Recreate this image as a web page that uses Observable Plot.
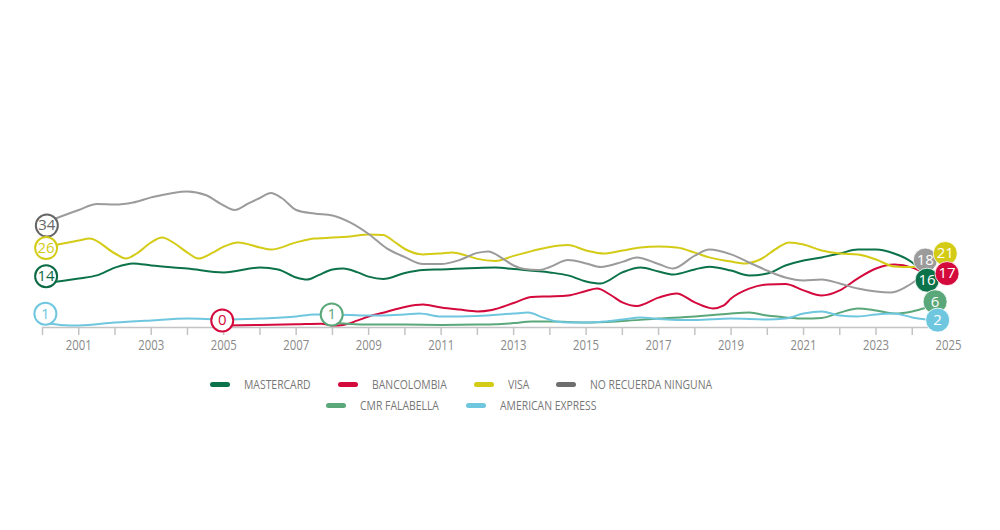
<!DOCTYPE html>
<html>
<head>
<meta charset="utf-8">
<script src="https://cdn.jsdelivr.net/npm/d3@7"></script>
<script src="https://cdn.jsdelivr.net/npm/@observablehq/plot@0.6"></script>
<style>
  html, body { margin: 0; padding: 0; background: #fff; }
  body { width: 1000px; height: 530px; position: relative; overflow: hidden;
         font-family: "Open Sans", "Liberation Sans", sans-serif; }
  #chart { position: absolute; left: 0; top: 0; }
  .lrow { position: absolute; left: 0; width: 922px; display: flex; justify-content: center;
          align-items: center; gap: 27px; font-size: 13px; color: #777; height: 18px; }
  .item { display: flex; align-items: center; gap: 14px; white-space: nowrap; }
  .sw { width: 20px; height: 5px; border-radius: 3px; display: inline-block; }
  .lt { display: inline-block; transform-origin: left center; }
</style>
</head>
<body>
<div id="chart"></div>
<div class="lrow" id="row1" style="top:375px"></div>
<div class="lrow" id="row2" style="top:396px"></div>
<script>
// ---- series names & colours ----
const seriesNames = ["MASTERCARD", "BANCOLOMBIA", "VISA", "NO RECUERDA NINGUNA", "CMR FALABELLA", "AMERICAN EXPRESS"];
const seriesColors = ["#0b7249", "#d4093c", "#d3cb16", "#9b9b9b", "#5aa77a", "#6fc7df"];
const legendColors = ["#0b7249", "#d4093c", "#d3cb16", "#6e6e6e", "#5aa77a", "#6fc7df"];
const outlineColors = ["#0b6a44", "#d4093c", "#d3cb16", "#666666", "#5aa77a", "#6fc7df"];

// ---- values [year, %] ----
const mastercard = [[2000,14],[2001,15.7],[2001.5,16.7],[2002,19.3],[2002.5,20.7],[2003,20],[2004,19],[2005,17.7],[2006,19.3],[2006.5,18.7],[2007,16],[2007.3,15.3],[2007.6,16.7],[2008,18.7],[2008.3,19],[2008.7,17.7],[2009,16.3],[2009.4,15.5],[2010,17.5],[2010.5,18.5],[2011,18.7],[2012,19.2],[2012.5,19.3],[2013,18.8],[2014,17.7],[2014.5,16.7],[2015,14.7],[2015.4,14],[2016,17.7],[2016.5,19.3],[2017,18],[2017.4,17],[2018,18.7],[2018.4,19.6],[2019,18.3],[2019.5,16.7],[2020,17.3],[2020.5,20],[2021,21.7],[2021.5,22.7],[2022,24],[2022.5,25.3],[2023,25.3],[2023.5,24],[2024,21],[2024.4,16]];
const bancolombia = [[2005,0],[2006,0.2],[2007,0.4],[2007.7,0.6],[2008,0],[2008.3,0.2],[2008.7,1.7],[2009,3],[2009.5,4.6],[2010,6.2],[2010.5,7],[2011,6],[2011.5,5.3],[2012,4.7],[2012.4,5.2],[2013,7.5],[2013.5,9.5],[2014,9.7],[2014.5,10],[2015,11.5],[2015.3,12.3],[2015.7,10],[2016,7.7],[2016.4,6.5],[2017,9.3],[2017.5,10.7],[2018,7.7],[2018.5,5.7],[2018.8,6.7],[2019,9],[2019.5,12.3],[2020,13.7],[2020.5,13.8],[2021,11.7],[2021.5,10],[2022,11.7],[2022.5,15.7],[2023,19],[2023.5,20.3],[2024,19.3],[2024.4,17]];
const visa = [[2000,26],[2001,28.3],[2001.3,29],[2002,24],[2002.3,22.3],[2002.6,24],[2003,27.7],[2003.3,29.3],[2003.6,27.7],[2004,24.3],[2004.3,22.3],[2004.7,24.3],[2005,26.3],[2005.4,27.7],[2006,26],[2006.3,25.3],[2007,27.7],[2007.5,29],[2008,29.3],[2008.5,29.7],[2009,30.3],[2009.4,30.2],[2009.7,28],[2010,25.5],[2010.5,23.7],[2011,24],[2011.3,24.3],[2011.7,23.3],[2012,22.2],[2012.5,21.5],[2013,23.2],[2013.5,24.8],[2014,26.2],[2014.5,26.8],[2015,25],[2015.5,24],[2016,25],[2016.5,26],[2017,26.3],[2017.5,26],[2018,24.3],[2018.4,22.7],[2019,21.3],[2019.4,20.7],[2019.8,22],[2020.3,26],[2020.6,27.7],[2021,27],[2021.5,25],[2022,24],[2022.5,23.7],[2023,22],[2023.5,19.7],[2024,19.5],[2024.4,20.5]];
const noRecuerda = [[2000,34],[2001,38.5],[2001.5,40.5],[2002,40.3],[2002.5,41],[2003,42.7],[2004,44.7],[2004.5,43.5],[2005,40],[2005.3,38.5],[2005.7,40.8],[2006,42.5],[2006.3,44.2],[2006.6,42.5],[2007,38.5],[2007.5,37.3],[2008,36.7],[2008.5,34.3],[2009,30.5],[2009.5,25.7],[2010,22.8],[2010.5,20.5],[2011,20.5],[2011.5,21.8],[2012,24.2],[2012.3,24.7],[2012.7,22.3],[2013,20],[2013.3,18.8],[2013.7,18.5],[2014,19.5],[2014.5,21.8],[2015,20.7],[2015.4,19.5],[2016,21.2],[2016.4,22.7],[2017,20.5],[2017.4,19],[2018,23.3],[2018.4,25.3],[2019,23.7],[2019.5,21],[2020,18.3],[2020.5,16],[2021,15],[2021.5,15.3],[2022,14],[2022.5,12.3],[2023,11.3],[2023.4,11],[2023.8,12.7],[2024.1,15],[2024.4,18]];
const cmrFalabella = [[2008,1],[2008.5,0.5],[2009,0.3],[2010,0.3],[2011,0.2],[2012,0.3],[2012.5,0.4],[2013,0.8],[2013.5,1.3],[2014,1.3],[2015,1],[2016,1.5],[2017,2.3],[2018,3],[2018.5,3.5],[2019,4],[2019.5,4.3],[2020,3.3],[2020.5,2.7],[2021,2.3],[2021.5,2.5],[2022,4.3],[2022.5,5.7],[2023,5],[2023.5,4],[2024,4.7],[2024.4,6]];
const americanExpress = [[2000,1],[2000.5,0.2],[2001,0],[2002,1],[2003,1.7],[2004,2.3],[2005,2],[2006,2.3],[2007,3],[2007.5,3.7],[2008,3.7],[2009,3.3],[2010,3.7],[2010.4,4],[2011,3],[2012,3.2],[2013,4],[2013.4,4.3],[2013.8,2.7],[2014.2,1.3],[2014.5,1],[2015,1],[2015.5,1.3],[2016,2],[2016.5,2.7],[2017,2.2],[2018,1.8],[2019,2.3],[2020,2],[2020.5,2.3],[2021,4],[2021.5,4.7],[2022,3.3],[2022.5,3],[2023,3.7],[2023.5,4],[2024,2.7],[2024.4,2]];
const seriesData = [mastercard, bancolombia, visa, noRecuerda, cmrFalabella, americanExpress];

// ---- start labels (outlined) ----
const startSeries = ["NO RECUERDA NINGUNA", "VISA", "MASTERCARD", "AMERICAN EXPRESS", "BANCOLOMBIA", "CMR FALABELLA"];
const startText   = ["34", "26", "14", "1", "0", "1"];
const startYear   = [2000.12, 2000.1, 2000.1, 2000.08, 2004.96, 2007.98];
const startPos    = [33.3, 25.8, 16.4, 3.9, 1.7, 3.7];

// ---- end labels (filled) ----
const endSeries = ["NO RECUERDA NINGUNA", "VISA", "MASTERCARD", "BANCOLOMBIA", "CMR FALABELLA", "AMERICAN EXPRESS"];
const endText   = ["18", "21", "16", "17", "6", "2"];
const endYear   = [2024.36, 2024.91, 2024.41, 2024.96, 2024.63, 2024.70];
const endPos    = [21.8, 24, 15.1, 17.3, 7.9, 1.8];

// ---- axis ticks ----
const tickYears  = d3.range(2000, 2025);
const labelYears = d3.range(2001, 2026, 2);

// build tables
const rows = seriesNames.flatMap((s, i) => seriesData[i].map(([year, value]) => ({series: s, year, value})));
const startLabels = startSeries.map((s, i) => ({series: s, text: startText[i], year: startYear[i], value: startPos[i],
  outline: outlineColors[seriesNames.indexOf(s)]}));
const endLabels = endSeries.map((s, i) => ({series: s, text: endText[i], year: endYear[i], value: endPos[i]}));

const numFont = "'Open Sans', 'Liberation Sans', sans-serif";

const chart = Plot.plot({
  width: 1000,
  height: 360,
  marginLeft: 42,
  marginRight: 52,
  marginTop: 175,
  marginBottom: 33,
  x: {domain: [2000, 2025], axis: null},
  y: {domain: [-2/3, 50], axis: null},
  color: {domain: seriesNames, range: seriesColors},
  style: {background: "transparent", color: "#8a8a8a", fontFamily: "'Open Sans', 'Liberation Sans', sans-serif"},
  marks: [
    Plot.ruleY([-2/3], {x1: 2000, x2: 2024.5, stroke: "#c4c4c4", strokeWidth: 1.5}),
    Plot.axisX({ticks: tickYears, tickSize: 8, tickFormat: () => "", label: null, stroke: "#c4c4c4", strokeWidth: 1.5}),
    Plot.axisX({ticks: labelYears, tickSize: 0, tickPadding: 13, tickFormat: d => String(d), label: null, fontSize: 14}),
    Plot.line(rows, {x: "year", y: "value", z: "series", stroke: "series", strokeWidth: 2, curve: "monotone-x"}),
    Plot.dot(startLabels, {x: "year", y: "value", r: 11, fill: "white", stroke: "outline", strokeWidth: 2}),
    Plot.text(startLabels, {x: "year", y: "value", text: "text", fill: "outline", fontSize: 15, fontFamily: numFont}),
    Plot.dot(endLabels, {x: "year", y: "value", r: 12, fill: "series", stroke: "white", strokeWidth: 0.8}),
    Plot.text(endLabels, {x: "year", y: "value", text: "text", fill: "white", fontSize: 15, fontFamily: numFont})
  ]
});
document.getElementById("chart").appendChild(chart);

// condense tick labels like the reference's narrow face
d3.select(chart).selectAll("text").each(function() {
  const t = this.textContent;
  if (/^\d{4}$/.test(t)) {
    d3.select(this).attr("textLength", 26).attr("lengthAdjust", "spacingAndGlyphs");
  }
});

// ---- legend ----
const legendRows = [[0, 1, 2, 3], [4, 5]];
legendRows.forEach((idxs, r) => {
  const row = document.getElementById(r === 0 ? "row1" : "row2");
  idxs.forEach(i => {
    const item = document.createElement("div");
    item.className = "item";
    const sw = document.createElement("span");
    sw.className = "sw";
    sw.style.background = legendColors[i];
    const t = document.createElement("span");
    t.className = "lt";
    t.textContent = seriesNames[i];
    item.appendChild(sw);
    item.appendChild(t);
    row.appendChild(item);
    const w = t.getBoundingClientRect().width;
    t.style.transform = "scaleX(0.8)";
    t.style.marginRight = (-w * 0.2) + "px";
  });
});
</script>
</body>
</html>
